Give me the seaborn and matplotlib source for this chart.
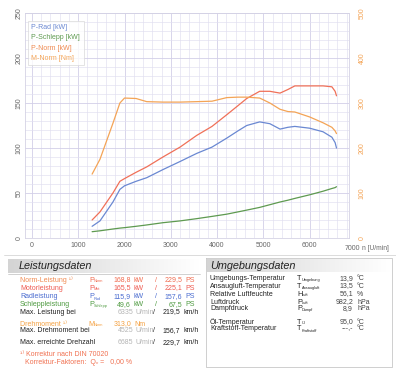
import numpy as np
import pandas as pd
import matplotlib
matplotlib.use("Agg")
import matplotlib.pyplot as plt
import matplotlib.transforms as mtransforms
from matplotlib.colors import LinearSegmentedColormap
from matplotlib.lines import Line2D
import seaborn as sns

# curve data
rpm = [1300, 1470, 1750, 1900, 2000, 2250, 2480, 2830, 3200, 3560, 3890, 4210,
       4450, 4640, 4920, 5140, 5360, 5530, 5680, 6000, 6290, 6480, 6550, 6580]
p_rad = [13, 19, 40, 54, 58, 63, 67, 76, 85, 94, 101, 111,
         119, 125, 129, 127, 121, 123, 124, 122, 118, 112, 106, 100]
p_schlepp = [7, 8, 10, 11, 11.5, 13, 14.5, 17, 19, 21.5, 24, 26.5,
             29, 31, 34, 37, 40, 42, 44, 48, 52, 55, 56, 57]
p_norm = [20, 29, 50, 63, 66, 73, 79, 90, 101, 114, 124, 137,
          147, 155, 163, 163, 161, 165, 169, 169, 169, 168, 163, 158]
m_norm = [142, 175, 255, 300, 311, 310, 303, 302, 302, 303, 304, 312,
          313, 313, 311, 300, 286, 281, 280, 269, 256, 246, 238, 232]

x_ticks = [0, 1000, 2000, 3000, 4000, 5000, 6000]
y_ticks = [0, 50, 100, 150, 200, 250]
y2_ticks = [0, 100, 200, 300, 400, 500]

legend_labels = ["P-Rad [kW]", "P-Schlepp [kW]", "P-Norm [kW]", "M-Norm [Nm]"]

C_BLUE = "#6a88d2"
C_GREEN = "#5e9a50"
C_RED = "#f07058"
C_ORANGE = "#f4a456"

power = pd.DataFrame({"rpm": rpm, "P-Rad [kW]": p_rad,
                      "P-Schlepp [kW]": p_schlepp, "P-Norm [kW]": p_norm})
power_long = power.melt(id_vars="rpm", var_name="curve", value_name="kW")
torque = pd.DataFrame({"rpm": rpm, "Nm": m_norm})

sns.set_style("white")
plt.rcParams["font.family"] = ["Liberation Sans", "DejaVu Sans"]

W, H = 396, 368
fig = plt.figure(figsize=(W / 100, H / 100), dpi=100)

# background axes in pixel coordinates for the tables
bg = fig.add_axes([0, 0, 1, 1], zorder=-1)
bg.set_xlim(0, W)
bg.set_ylim(H, 0)
bg.axis("off")

ax = fig.add_axes([25 / W, 1 - 238 / H, 324 / W, 225 / H])
ax.set_facecolor("white")
sns.lineplot(data=power_long, x="rpm", y="kW", hue="curve",
             palette={"P-Rad [kW]": C_BLUE, "P-Schlepp [kW]": C_GREEN,
                      "P-Norm [kW]": C_RED},
             linewidth=0.9, legend=False, ax=ax)
ax.set_xlim(-150, 6850)
ax.set_ylim(0, 250)
ax.set_xticks(x_ticks)
ax.set_yticks(y_ticks)
ax.set_xticks(np.arange(0, 6850, 200), minor=True)
ax.set_yticks(np.arange(0, 251, 10), minor=True)
ax.grid(True, which="major", color="#d2cee8", linewidth=0.6)
ax.grid(True, which="minor", color="#e0def0", linewidth=0.45)
ax.tick_params(which="both", length=0, labelsize=5, colors="#666666")
ax.tick_params(axis="y", pad=1.5)
ax.tick_params(axis="x", pad=3)
for lab in ax.get_yticklabels():
    lab.set_rotation(90)
    lab.set_va("center")
ax.set_xlabel("")
ax.set_ylabel("")
for s in ax.spines.values():
    s.set_color("#d4d2e4")
    s.set_linewidth(0.6)

ax2 = ax.twinx()
sns.lineplot(data=torque, x="rpm", y="Nm", color=C_ORANGE, linewidth=0.9, ax=ax2)
ax2.set_ylim(0, 500)
ax2.set_yticks(y2_ticks)
ax2.tick_params(length=0, labelsize=5, colors=C_ORANGE, pad=7)
for lab in ax2.get_yticklabels():
    lab.set_rotation(90)
    lab.set_va("center")
ax2.set_ylabel("")
ax2.set_xlabel("")
for s in ax2.spines.values():
    s.set_visible(False)

# 7000 label sits beyond the frame, plus the axis unit
trans = mtransforms.blended_transform_factory(ax.transData, ax.transAxes)
ax.text(6930, -0.033, "7000", transform=trans, ha="center", va="top",
        fontsize=5, color="#666666", clip_on=False)
bg.text(362, 248.5, "n [U/min]", fontsize=4.8, color="#666666", va="center")

# text-only legend
handles = [Line2D([], [], linestyle="none") for _ in legend_labels]
leg = ax.legend(handles, legend_labels, loc="upper left",
                bbox_to_anchor=(0.009, 0.965), borderaxespad=0,
                handlelength=0, handletextpad=0, fontsize=5,
                labelcolor=[C_BLUE, C_GREEN, "#f08a50", C_ORANGE],
                frameon=True, fancybox=False, labelspacing=0.45,
                borderpad=0.5)
leg.get_frame().set_edgecolor("#d8d8d8")
leg.get_frame().set_linewidth(0.6)

# ---- tables below the chart ----
grad = LinearSegmentedColormap.from_list("hdr", ["#d4d4d4", "#ffffff"])
bg.plot([4, 396], [255, 255], color="#d6d6d6", linewidth=0.6)
bg.imshow(np.linspace(0, 1, 100)[None, :], cmap=grad, aspect="auto",
          extent=[8, 200, 273, 259], zorder=0)
bg.plot([8, 200], [273.5, 273.5], color="#bdbdbd", linewidth=0.5)
bg.text(19, 266, "Leistungsdaten", fontsize=7.8, style="italic",
        va="center", color="#222222")

# box for Umgebungsdaten
bg.plot([206, 392, 392, 206, 206], [258, 258, 367, 367, 258],
        color="#c8c8c8", linewidth=0.6)
bg.imshow(np.linspace(0, 1, 100)[None, :], cmap=grad, aspect="auto",
          extent=[207, 391, 272, 259], zorder=0)
bg.text(210, 266, "Umgebungsdaten", fontsize=7.8, style="italic",
        va="center", color="#222222")


def sym(x, y, main, sub, color):
    off = 6 if main == "M" else 4.5
    bg.text(x, y, main, fontsize=5.2, color=color, va="center")
    bg.text(x + off, y + 1.5, sub, fontsize=2.8, color=color, va="center")


FS = 5
rows = [
    (280, "Norm-Leistung \u00b9\u207e", "#f08a50", "P", "Norm", "#f06c50", "168,8", "229,5"),
    (288, "Motorleistung", "#ee5a50", "P", "Mot", "#ee5a50", "165,5", "225,1"),
    (297, "Radleistung", "#4a6cd0", "P", "Rad", "#4a6cd0", "115,9", "157,6"),
    (305, "Schleppleistung", "#4e9a40", "P", "Schlepp", "#4e9a40", "49,6", "67,5"),
]
for y, lab, c, m, sb, vc, kw, ps in rows:
    bg.text(20, y, lab, fontsize=FS, color=c, va="center")
    sym(89, y, m, sb, vc)
    bg.text(131, y, kw, fontsize=FS, color=vc, va="center", ha="right")
    bg.text(134, y, "kW", fontsize=FS, color=vc, va="center")
    bg.text(155, y, "/", fontsize=FS, color=vc, va="center")
    bg.text(182, y, ps, fontsize=FS, color=vc, va="center", ha="right")
    bg.text(185, y, "PS", fontsize=FS, color=vc, va="center")

GREY = "#b4b4b4"


def speed_row(y, label, n, v):
    bg.text(20, y, label, fontsize=FS, color="#222222", va="center")
    bg.text(133, y, n, fontsize=FS, color=GREY, va="center", ha="right")
    bg.text(136, y, "U/min", fontsize=FS, color=GREY, va="center")
    bg.text(153, y, "/", fontsize=FS, color="#222222", va="center")
    bg.text(180, y, v, fontsize=FS, color="#222222", va="center", ha="right")
    bg.text(183, y, "km/h", fontsize=FS, color="#222222", va="center")


speed_row(312, "Max. Leistung bei", "6335", "219,5")
bg.text(20, 324, "Drehmoment \u00b9\u207e", fontsize=FS, color="#f4a040", va="center")
sym(88, 324, "M", "Norm", "#f4a040")
bg.text(131, 324, "313,0", fontsize=FS, color="#f4a040", va="center", ha="right")
bg.text(134, 324, "Nm", fontsize=FS, color="#f4a040", va="center")
speed_row(331, "Max. Drehmoment bei", "4525", "156,7")
speed_row(343, "Max. erreichte Drehzahl", "6685", "229,7")
bg.text(20, 354, "\u00b9\u207e Korrektur nach DIN 70020", fontsize=FS,
        color="#f07050", va="center")
bg.text(25, 362, "Korrektur-Faktoren:  Q\u1d65 =   0,00 %", fontsize=FS,
        color="#f07050", va="center")

env = [
    (279, "Umgebungs-Temperatur", "T", "Umgebung", "13,9", "\u00b0C"),
    (286, "Ansaugluft-Temperatur", "T", "Ansaugluft", "13,5", "\u00b0C"),
    (294, "Relative Luftfeuchte", "H", "Luft", "56,1", "%"),
    (302, "Luftdruck", "P", "Luft", "982,2", "hPa"),
    (309, "Dampfdruck", "P", "Dampf", "8,9", "hPa"),
    (322, "\u00d6l-Temperatur", "T", "\u00d6l", "95,0", "\u00b0C"),
    (329, "Kraftstoff-Temperatur", "T", "Kraftstoff", "---,-", "\u00b0C"),
]
for y, lab, m, sb, val, unit in env:
    bg.text(210, y, lab, fontsize=FS, color="#222222", va="center")
    sym(297, y, m, sb, "#222222")
    bg.text(353, y, val, fontsize=FS, color="#444444", va="center", ha="right")
    bg.text(357, y, unit, fontsize=FS, color="#444444", va="center")

fig.savefig("out.png", dpi=100)
